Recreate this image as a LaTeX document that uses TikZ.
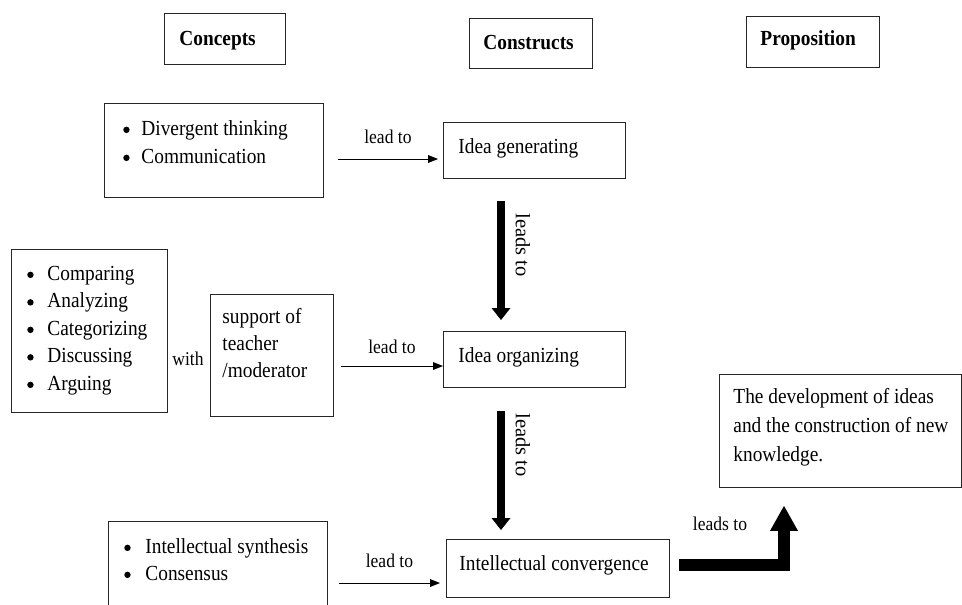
\documentclass[tikz,border=0pt]{standalone}
\usepackage{fontspec}
\setmainfont{Liberation Serif}[FakeStretch=0.9]
\newfontfamily\rotfont{Liberation Serif}
\usetikzlibrary{arrows.meta,calc}
\setlength\parindent{0pt}
% name, x1, y1, x2, y2, baselineskip, content
\newcommand\mybox[7]{%
  \node[boxnode] (#1) at (#2,#3) {\begin{minipage}[t][\dimexpr #5pt-#3pt\relax][t]{\dimexpr #4pt-#2pt\relax}\fontsize{21.5}{#6}\selectfont #7\end{minipage}};}
\newcommand\mybullet{\raisebox{2.4pt}{\tikz\fill[black] (0pt,0pt) circle[radius=3.2pt];}}
\newcommand\li[2]{\par\leavevmode\vrule height 16pt width 0pt\hspace*{#1pt}#2}
\newcommand\bi[3]{\par\leavevmode\vrule height 16pt width 0pt\hspace*{#1pt}\makebox[0pt]{\mybullet}\hspace*{\dimexpr #2pt-#1pt\relax}#3}
\begin{document}
\begin{tikzpicture}[x=1pt,y=-1pt,
  boxnode/.style={draw=black!85,line width=0.9pt,inner sep=0pt,anchor=north west},
  tarrow/.style={line width=1pt,-{Triangle[length=10pt,width=8pt,line width=0pt]}},
  bigarrow/.style={line width=8pt,-{Triangle[length=12pt,width=19pt,line width=0pt]}},
  bentarrow/.style={line width=12pt,line join=miter,-{Triangle[length=25pt,width=28pt,line width=0pt]}},
  lbl/.style={font=\fontsize{19.5}{22}\selectfont,inner sep=0pt,anchor=base},
  rlbl/.style={font=\rotfont\fontsize{20.5}{22}\selectfont,inner sep=0pt,rotate=-90}]
\fill[white] (0,0) rectangle (962,605);
\useasboundingbox (0,0) rectangle (962,605);

% headings
\mybox{concepts}{164}{13}{285}{64}{28}{\vspace*{16pt}\li{15}{\textbf{Concepts}}}
\mybox{constructs}{469}{18}{592}{68}{28}{\vspace*{15pt}\li{14}{\textbf{Constructs}}}
\mybox{proptitle}{746}{16}{879}{67}{28}{\vspace*{13pt}\li{14}{\textbf{Proposition}}}

% concept boxes
\mybox{div}{104}{103}{323}{197}{28}{\vspace*{16pt}\bi{22}{37}{Divergent thinking}\bi{22}{37}{Communication}}
\mybox{list}{11}{249}{167}{412}{27.5}{\vspace*{15pt}\bi{19}{36}{Comparing}\bi{19}{36}{Analyzing}\bi{19}{36}{Categorizing}\bi{19}{36}{Discussing}\bi{19}{36}{Arguing}}
\mybox{sup}{210}{294}{333}{416}{27}{\vspace*{13pt}\li{12}{support of}\li{12}{teacher}\li{12}{/moderator}}
\mybox{syn}{108}{521}{327}{620}{27}{\vspace*{16pt}\bi{19}{37}{Intellectual synthesis}\bi{19}{37}{Consensus}}

% construct boxes
\mybox{gen}{443}{122}{625}{178}{28}{\vspace*{15pt}\li{15}{Idea generating}}
\mybox{org}{443}{331}{625}{387}{28}{\vspace*{15pt}\li{15}{Idea organizing}}
\mybox{conv}{446}{539}{669}{597}{28}{\vspace*{15pt}\li{13}{Intellectual convergence}}

% proposition box
\mybox{prop}{719}{374}{960.5}{487}{29}{\vspace*{13pt}\li{14}{The development of ideas}\li{14}{and the construction of new}\li{14}{knowledge.}}

% helper coordinates
\coordinate (ya) at (0,159);
\coordinate (yb) at (0,366);
\coordinate (yc) at (0,583);
\coordinate (ax) at (501,0);
\coordinate (bx) at (784,0);

% thin arrows
\draw[tarrow] ($(div.east|-ya)+(14,0)$) -- ($(gen.west|-ya)+(-5,0)$)
  node[lbl,midway,yshift=16pt] (l1) {lead to};
\draw[tarrow] ($(sup.east|-yb)+(7,0)$) -- (org.west|-yb)
  node[lbl,midway,yshift=13pt] (l2) {lead to};
\draw[tarrow] ($(syn.east|-yc)+(11,0)$) -- ($(conv.west|-yc)+(-6,0)$)
  node[lbl,midway,yshift=16pt] (l3) {lead to};

\node[lbl] (with) at (188,365) {with};

% thick arrows
\draw[bigarrow] ($(gen.south-|ax)+(0,22)$) -- ($(org.north-|ax)+(0,-11)$);
\draw[bigarrow] ($(org.south-|ax)+(0,23)$) -- ($(conv.north-|ax)+(0,-9)$);
\node[rlbl] (r1) at (523,245) {leads to};
\node[rlbl] (r2) at (523,445) {leads to};

\draw[bentarrow] ($(conv.east)+(9,-3)$) -| ($(prop.south-|bx)+(0,18)$);
\node[lbl] (l4) at (720,530) {leads to};
\end{tikzpicture}
\end{document}
